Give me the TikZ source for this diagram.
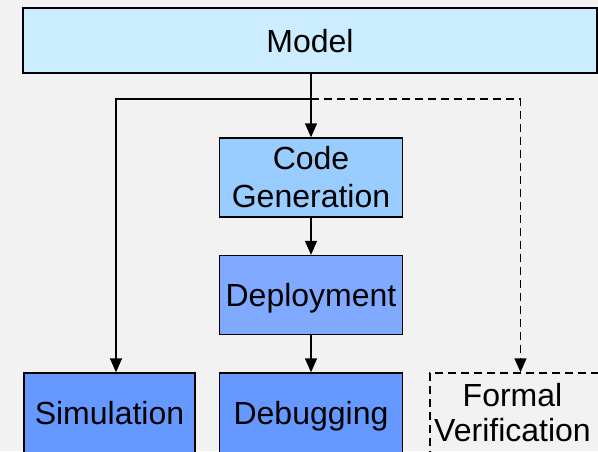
\documentclass[tikz,border=0pt]{standalone}
\usepackage{fontspec}
\setmainfont{Liberation Sans}
\usetikzlibrary{arrows.meta}
\definecolor{fond}{HTML}{F2F2F2}
\definecolor{bleuA}{HTML}{CCECFF}
\definecolor{bleuB}{HTML}{99CCFF}
\definecolor{bleuC}{HTML}{80AAFF}
\definecolor{bleuD}{HTML}{6699FF}
\begin{document}
\begin{tikzpicture}[x=1pt,y=-1pt,
  boite/.style={draw, line width=1.4pt, rectangle, inner sep=0pt, align=center,
    minimum width=183pt, minimum height=79pt, font=\fontsize{32}{35}\selectfont},
  uneligne/.style={text height=23pt, text depth=0pt},
  fleche/.style={line width=1.4pt, -{Triangle[width=12pt,length=14pt]}},
  tirets/.style={dash pattern=on 8pt off 5pt}]
%fond
\clip (0,0) rectangle (598,451);
\fill[fond] (0,0) rectangle (598,451);

%les boites
\node[boite, uneligne, fill=bleuA, minimum width=574pt, minimum height=65pt] (model) at (310,40.5) {Model};
\node[boite, fill=bleuB, font=\fontsize{32}{38}\selectfont] (codegen) at (311,177.5) {Code\\Generation};
\node[boite, uneligne, fill=bleuC] (deploy) at (311,295) {Deployment};
\node[boite, uneligne, fill=bleuD, minimum width=171pt, minimum height=80pt] (sim) at (109.5,413) {Simulation};
\node[boite, uneligne, fill=bleuD, minimum height=80pt] (debug) at (311,413) {Debugging};
\node[boite, tirets, minimum width=181pt, minimum height=80pt] (formal) at (520.5,413) {};
\node[boite, draw=none, minimum width=0pt, minimum height=0pt] (formaltxt) at (512.5,413) {Formal\\Verification};

%fleches
\coordinate (split) at (311,99);
\coordinate (lft) at (116,99);
\draw[fleche] (model.south -| codegen.north) -- (codegen.north);
\draw[fleche] (codegen) -- (deploy);
\draw[fleche] (deploy) -- (debug);
\draw[fleche] (split) -- (lft) -- (lft |- sim.north);
\draw[fleche, tirets] (split) -- (split -| formal.north) -- (formal.north);
\end{tikzpicture}
\end{document}
